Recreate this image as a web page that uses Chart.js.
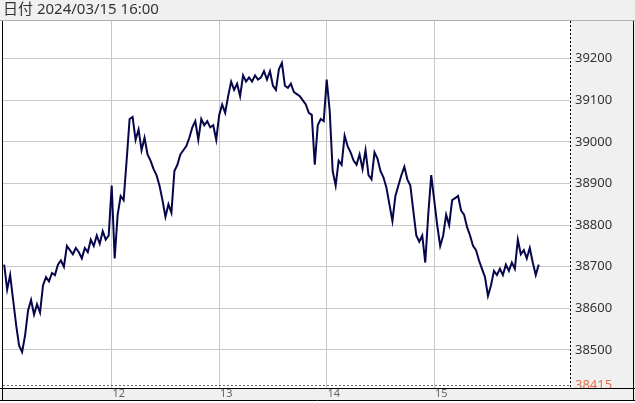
<!DOCTYPE html>
<html>
<head>
<meta charset="utf-8">
<script src="https://cdn.jsdelivr.net/npm/chart.js@4/dist/chart.umd.min.js"></script>
<style>
  html, body { margin: 0; padding: 0; background: #fff; }
  #wrap { width: 635px; height: 403px; }
</style>
</head>
<body>
<div id="wrap"><canvas id="chart" width="635" height="403"></canvas></div>
<script>
// price trace, one point per ~40 minutes of the session, day 11 -> 15
const startDay = 11;
const pointsPerDay = 36;
const prices = [
  38705, 38645, 38680, 38620, 38560, 38510, 38495, 38535, 38595, 38620,
  38585, 38610, 38590, 38655, 38675, 38665, 38685, 38680, 38705, 38715,
  38700, 38750, 38740, 38730, 38745, 38735, 38720, 38745, 38735, 38765,
  38750, 38775, 38755, 38785, 38765, 38775,
  38895, 38720, 38825, 38870, 38860, 38955, 39055, 39060, 39005, 39030,
  38980, 39010, 38970, 38955, 38935, 38920, 38895, 38860, 38820, 38850,
  38830, 38930, 38945, 38970, 38980, 38990, 39010, 39035, 39050, 39005,
  39055, 39040, 39050, 39035, 39040, 39005,
  39065, 39090, 39070, 39110, 39145, 39125, 39140, 39110, 39160, 39145,
  39155, 39145, 39160, 39150, 39155, 39170, 39150, 39170, 39135, 39125,
  39175, 39190, 39135, 39130, 39140, 39120, 39115, 39110, 39100, 39090,
  39070, 39065, 38945, 39040, 39055, 39050,
  39150, 39075, 38930, 38895, 38955, 38945, 39015, 38990, 38975, 38955,
  38945, 38970, 38935, 38980, 38920, 38910, 38975, 38960, 38930, 38915,
  38890, 38850, 38810, 38870, 38895, 38920, 38940, 38910, 38895, 38835,
  38775, 38760, 38775, 38710,
  38825, 38920, 38860, 38800, 38750, 38775, 38825, 38800, 38860, 38865,
  38870, 38835, 38825, 38795, 38775, 38750, 38740, 38715, 38695, 38675,
  38630, 38655, 38690, 38680, 38695, 38680, 38705, 38690, 38710, 38695,
  38765, 38730, 38740, 38720, 38745, 38710, 38680, 38705
];
const dayTicks = [12, 13, 14, 15];
const priceTicks = [38415, 38500, 38600, 38700, 38800, 38900, 39000, 39100, 39200];
const basePrice = 38415;
const headerText = "日付 2024/03/15 16:00";

const points = prices.map(function (p, i) {
  return { x: startDay + i / pointsPerDay, y: p };
});

const frame = {
  id: "frame",
  beforeDraw: function (chart) {
    const ctx = chart.ctx;
    const a = chart.chartArea;
    ctx.save();
    ctx.fillStyle = "#ffffff";
    ctx.fillRect(0, 0, chart.width, chart.height);
    ctx.fillStyle = "#f0f0f0";
    ctx.fillRect(0, 0, chart.width, 20);
    ctx.fillRect(a.right, a.top, chart.width - a.right, a.bottom - a.top);
    ctx.fillRect(0, a.bottom, chart.width, 12);
    ctx.fillStyle = "#333";
    ctx.font = "15px 'Noto Sans', 'Noto Sans CJK JP', sans-serif";
    ctx.textBaseline = "middle";
    ctx.fillText(headerText, 3, 10);
    ctx.restore();
  },
  beforeDatasetsDraw: function (chart) {
    const ctx = chart.ctx;
    const a = chart.chartArea;
    const y = Math.round(chart.scales.y.getPixelForValue(basePrice)) + 0.5;
    ctx.save();
    ctx.strokeStyle = "#666";
    ctx.lineWidth = 1;
    ctx.setLineDash([2, 2]);
    ctx.beginPath();
    ctx.moveTo(a.left, y);
    ctx.lineTo(a.right, y);
    ctx.stroke();
    ctx.restore();
  },
  afterDraw: function (chart) {
    const ctx = chart.ctx;
    const a = chart.chartArea;
    ctx.save();
    ctx.lineWidth = 1;
    ctx.strokeStyle = "#b0b0b0";
    ctx.beginPath();
    ctx.moveTo(0, 20.5);
    ctx.lineTo(chart.width, 20.5);
    ctx.stroke();
    ctx.strokeStyle = "#000";
    ctx.beginPath();
    ctx.moveTo(0, a.bottom + 0.5);
    ctx.lineTo(chart.width, a.bottom + 0.5);
    ctx.moveTo(0, a.bottom + 12.5);
    ctx.lineTo(chart.width, a.bottom + 12.5);
    ctx.moveTo(2.5, 21);
    ctx.lineTo(2.5, a.bottom + 12);
    ctx.moveTo(633.5, 21);
    ctx.lineTo(633.5, a.bottom + 12);
    ctx.stroke();
    ctx.setLineDash([2, 2]);
    ctx.beginPath();
    ctx.moveTo(a.right + 0.5, 21);
    ctx.lineTo(a.right + 0.5, a.bottom);
    ctx.stroke();
    ctx.restore();
  }
};

new Chart(document.getElementById("chart"), {
  type: "line",
  data: {
    datasets: [{
      data: points,
      borderColor: "#06064a",
      borderWidth: 2,
      pointRadius: 0,
      tension: 0,
      fill: false
    }]
  },
  options: {
    responsive: false,
    animation: false,
    events: [],
    layout: { padding: { top: 21, left: 3, right: 0, bottom: 0 } },
    plugins: { legend: { display: false }, tooltip: { enabled: false } },
    scales: {
      x: {
        type: "linear",
        min: 10.989,
        max: 16.263,
        afterFit: function (s) { s.height = 15; },
        afterBuildTicks: function (s) { s.ticks = dayTicks.map(function (v) { return { value: v }; }); },
        grid: { color: "#c8c8c8", drawTicks: false },
        border: { display: false },
        ticks: {
          color: "#666",
          font: { family: "'Noto Sans', sans-serif", size: 11 },
          padding: -1,
          labelOffset: 7,
          maxRotation: 0,
          autoSkip: false
        }
      },
      y: {
        position: "right",
        min: 38408.5,
        max: 39290.6,
        afterFit: function (s) { s.width = 65; },
        afterBuildTicks: function (s) { s.ticks = priceTicks.map(function (v) { return { value: v }; }); },
        grid: {
          color: function (c) { return c.tick && c.tick.value === basePrice ? "rgba(0,0,0,0)" : "#c8c8c8"; },
          drawTicks: false
        },
        border: { display: false },
        ticks: {
          padding: 5,
          autoSkip: false,
          font: { family: "'Noto Sans', sans-serif", size: 13 },
          color: function (c) { return c.tick && c.tick.value === basePrice ? "#e0704a" : "#333"; },
          callback: function (v) { return String(v); }
        }
      }
    }
  },
  plugins: [frame]
});
</script>
</body>
</html>
